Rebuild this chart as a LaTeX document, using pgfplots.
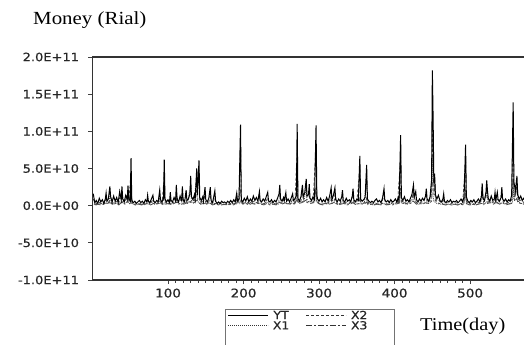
\documentclass[border=0pt]{standalone}
\usepackage{fontspec}
\usepackage{pgfplots}
\pgfplotsset{compat=1.18}
\newfontfamily\tickfont[FakeStretch=1.13,FakeBold=0.6]{DejaVu Sans}
\newfontfamily\serifw[FakeStretch=1.13]{Liberation Serif}
\begin{document}
\begin{tikzpicture}
\begin{axis}[
  at={(0,0)}, anchor=south west,
  scale only axis, width=433.5bp, height=223bp,
  xmin=0, xmax=574, ymin=-10, ymax=20,
  axis line style={draw=black!80, line width=1.1bp},
  xtick={100,200,300,400,500},
  minor x tick num=9,
  ytick={-10,-5,0,5,10,15,20},
  yticklabels={-1.0E+11,-5.0E+10,0.0E+00,5.0E+10,1.0E+11,1.5E+11,2.0E+11},
  xtick pos=bottom, ytick pos=left,
  tick align=outside,
  major tick length=4bp, minor tick length=2.5bp,
  tick style={black!75, line width=0.7bp},
  tick label style={font=\fontsize{11.5bp}{13bp}\selectfont\tickfont, text=black!85},
  yticklabel style={xshift=-6bp},
  xticklabel style={yshift=-1bp, font=\fontsize{12bp}{13bp}\selectfont\tickfont},
  /pgf/number format/assume math mode=true,
  legend columns=2,
  legend image code/.code={\draw[#1] (0bp,0bp) -- (40bp,0bp);},
  legend style={at={(0.3114,-0.1368)}, anchor=north west, draw=none, fill=none,
    inner sep=0pt, font=\fontsize{11bp}{12bp}\selectfont\tickfont,
    nodes={inner sep=0.5bp, text height=7.8bp, text depth=0bp, text=black!85},
    row sep=1.5bp,
    /tikz/every odd column/.append style={column sep=4bp},
    /tikz/every even column/.append style={column sep=16bp}},
]
% X3 (dash-dot)
\addplot[black!70, line width=0.8bp, dash pattern=on 6bp off 2bp on 2bp off 2bp, forget plot] coordinates {
(3,0.1)(7,0.2)(11,0.1)(15,0.2)(19,0.3)(23,0.4)(27,0.2)(31,0.3)(35,0.1)(39,0.5)(43,0.2)(47,0.7)(51,1.5)(53,0.2)(57,0.1)(61,0.2)(65,0.1)(69,0.2)(73,0.3)(77,0.1)(81,0.3)(85,0.2)(89,0.6)(93,0.2)(95,1.5)(97,0.2)(101,0.3)(105,0.1)(109,0.4)(111,0.9)(113,0.2)(117,0.3)(121,0.2)(125,0.4)(129,0.5)(133,0.3)(137,0.6)(141,1.0)(143,0.2)(147,0.3)(151,0.2)(155,0.4)(159,0.1)(163,0.2)(167,0.1)(171,0.1)(175,0.2)(179,0.1)(183,0.2)(187,0.1)(191,0.4)(195,0.3)(196,0.8)(199,0.2)(203,0.3)(207,0.1)(211,0.3)(215,0.2)(219,0.3)(223,0.2)(227,0.1)(231,0.3)(235,0.1)(239,0.2)(243,0.1)(247,0.5)(251,0.2)(255,0.4)(259,0.2)(263,0.3)(267,0.2)(271,0.9)(273,0.3)(277,0.4)(281,0.6)(285,0.4)(289,0.3)(293,0.4)(296,2.5)(297,0.4)(301,0.2)(305,0.1)(309,0.3)(313,0.2)(317,0.3)(321,0.5)(325,0.1)(329,0.2)(333,0.3)(337,0.1)(341,0.2)(345,0.4)(349,0.1)(353,0.3)(354,1.0)(357,0.2)(361,0.3)(363,0.5)(365,0.1)(369,0.2)(373,0.1)(377,0.2)(381,0.1)(385,0.4)(389,0.1)(393,0.2)(397,0.1)(401,0.2)(405,0.3)(408,2.5)(409,0.3)(413,0.4)(417,0.2)(421,0.3)(425,0.6)(429,0.2)(433,0.3)(437,0.2)(441,0.4)(445,0.3)(449,0.6)(450,3.0)(453,3.5)(455,0.5)(459,0.3)(463,0.2)(467,0.1)(471,0.2)(475,0.1)(479,0.2)(483,0.1)(487,0.2)(491,0.1)(494,2.0)(495,0.3)(499,0.1)(503,0.2)(507,0.1)(511,0.2)(515,0.3)(519,0.2)(522,0.6)(523,0.3)(527,0.4)(531,0.2)(535,0.5)(539,0.2)(543,0.4)(547,0.1)(551,0.2)(555,0.3)(557,4.0)(559,0.6)(562,1.0)(563,0.4)(567,0.3)(571,0.2)
};
% X2 (dashed)
\addplot[black!70, line width=0.8bp, dash pattern=on 3bp off 2bp, forget plot] coordinates {
(1,0.9)(4,0.2)(8,0.5)(12,0.2)(16,0.3)(20,0.4)(24,0.7)(27,0.2)(31,0.6)(35,0.3)(36,1.1)(40,0.4)(44,0.8)(47,1.5)(48,0.4)(51,4.5)(52,0.3)(56,0.2)(60,0.3)(64,0.2)(68,0.1)(72,0.3)(73,0.9)(76,0.2)(80,0.8)(84,0.2)(88,0.3)(92,0.2)(95,4.0)(96,0.4)(100,0.3)(103,1.0)(104,0.3)(108,0.5)(112,0.4)(116,0.6)(119,1.5)(120,0.4)(124,1.2)(125,0.3)(128,0.5)(132,0.6)(135,0.8)(136,0.4)(141,4.8)(142,0.5)(146,0.6)(149,1.4)(150,0.3)(154,0.5)(156,1.5)(158,0.2)(162,0.3)(166,0.2)(170,0.3)(174,0.2)(178,0.1)(182,0.3)(186,0.2)(190,0.4)(191,1.0)(194,0.4)(196,8.5)(197,0.4)(200,0.3)(204,0.5)(208,0.3)(212,0.6)(216,0.4)(220,0.5)(221,1.1)(224,0.2)(228,0.3)(232,1.0)(234,0.3)(238,0.4)(242,0.2)(246,0.5)(250,0.3)(252,0.6)(256,1.0)(258,0.3)(262,0.2)(265,0.9)(268,0.4)(271,7.5)(272,0.5)(276,0.6)(278,1.8)(280,0.6)(284,0.8)(287,1.9)(288,0.5)(292,0.6)(296,8.0)(297,0.8)(300,0.3)(304,0.2)(308,0.3)(312,0.4)(316,0.8)(320,0.5)(321,1.5)(324,0.2)(328,0.3)(331,1.2)(332,0.3)(336,0.5)(340,0.3)(345,1.4)(346,0.4)(350,0.5)(354,5.0)(355,0.5)(358,0.3)(362,0.5)(363,1.0)(366,0.3)(370,0.2)(374,0.4)(378,0.2)(382,0.1)(386,1.4)(388,0.3)(392,0.2)(396,0.4)(400,0.3)(404,0.5)(408,6.5)(409,0.6)(412,0.5)(416,0.3)(420,0.5)(423,0.9)(425,1.8)(427,0.7)(430,0.3)(434,0.4)(438,0.6)(442,1.4)(443,0.4)(446,0.6)(449,2.0)(450,11.8)(451,6.8)(452,1.5)(453,2.8)(454,0.7)(458,0.8)(462,0.3)(465,0.9)(466,0.3)(470,0.4)(474,0.3)(478,0.2)(482,0.4)(486,0.3)(490,0.2)(494,6.0)(495,0.6)(498,0.2)(502,0.4)(506,0.2)(510,0.5)(514,0.3)(516,2.2)(518,0.5)(521,1.0)(522,2.5)(524,0.6)(528,0.8)(532,0.4)(533,1.2)(534,0.4)(538,0.3)(542,1.6)(544,0.4)(548,0.3)(552,0.5)(555,0.8)(557,10.5)(558,2.0)(560,1.2)(562,3.0)(564,0.6)(568,0.8)(571,0.4)
};
% X1 (dotted)
\addplot[black!70, line width=0.8bp, dash pattern=on 1bp off 1bp, forget plot] coordinates {
(2,0.2)(6,0.1)(10,0.4)(14,0.2)(18,0.9)(22,0.3)(23,1.5)(26,0.2)(30,0.5)(34,0.2)(38,0.4)(39,1.6)(42,0.3)(46,0.5)(50,0.2)(51,1.2)(54,0.2)(58,0.1)(62,0.3)(66,0.2)(70,0.4)(74,0.2)(78,0.5)(82,0.2)(86,0.3)(89,1.1)(90,0.3)(94,0.2)(98,0.3)(102,0.2)(106,0.4)(110,0.3)(111,1.6)(114,0.3)(118,0.2)(122,0.4)(126,0.3)(130,3.0)(131,0.5)(134,0.4)(138,3.8)(139,0.6)(142,0.3)(146,0.5)(150,0.2)(154,0.4)(158,0.2)(162,0.9)(166,0.1)(170,0.2)(174,0.1)(178,0.2)(182,0.1)(186,0.3)(190,0.2)(196,2.0)(198,0.3)(202,0.4)(206,0.2)(210,0.5)(214,0.3)(218,0.4)(222,0.3)(226,0.2)(230,0.5)(234,0.3)(238,0.2)(242,0.3)(246,0.2)(248,1.5)(250,0.3)(254,0.4)(258,0.2)(262,0.4)(266,0.3)(270,0.5)(271,3.0)(272,0.4)(276,0.5)(280,0.6)(283,2.5)(284,0.5)(288,0.6)(292,0.4)(296,1.8)(297,0.5)(300,0.3)(304,0.2)(308,0.3)(312,0.2)(316,1.3)(317,0.3)(320,0.4)(324,0.2)(328,0.3)(332,0.4)(336,0.2)(340,0.3)(344,0.5)(348,0.2)(352,0.3)(356,0.2)(360,0.4)(363,4.0)(364,0.4)(368,0.2)(372,0.1)(376,0.3)(380,0.2)(384,0.3)(388,0.2)(392,0.1)(396,0.3)(400,0.2)(404,0.4)(408,1.8)(409,0.4)(412,0.3)(416,0.2)(420,0.4)(424,0.6)(425,1.6)(428,0.5)(432,0.2)(436,0.3)(440,0.4)(444,0.3)(448,0.5)(450,6.6)(451,1.2)(452,0.6)(456,0.3)(460,0.2)(464,0.3)(468,0.1)(472,0.2)(476,0.1)(480,0.2)(484,0.1)(488,0.3)(492,0.2)(494,1.5)(496,0.2)(500,0.1)(504,0.2)(508,0.1)(512,0.3)(516,1.8)(518,0.3)(522,1.9)(524,0.4)(528,0.5)(532,0.3)(536,0.9)(540,0.3)(544,0.4)(548,0.2)(552,0.3)(556,0.4)(557,3.0)(558,0.8)(562,2.2)(564,0.5)(568,0.3)(572,0.2)
};
% YT (solid)
\addplot[black, line width=1.0bp, forget plot] coordinates {
(1,1.6)(3,0.4)(5,0.7)(7,0.3)(9,1.0)(11,0.5)(13,0.8)(15,0.3)(17,0.9)(18,1.7)(19,0.6)(21,0.9)(23,2.6)(24,1.2)(26,0.5)(28,1.3)(30,0.6)(32,1.1)(34,0.4)(36,1.9)(38,0.8)(39,2.6)(40,0.9)(42,0.5)(44,1.4)(46,0.8)(47,2.7)(48,1.0)(50,0.6)(51,6.4)(52,0.7)(54,0.4)(56,0.6)(58,0.3)(60,0.5)(62,0.7)(64,0.4)(66,0.6)(68,0.3)(70,0.8)(72,0.5)(73,1.4)(74,0.6)(76,0.4)(78,0.9)(80,1.4)(81,0.6)(83,0.4)(85,0.7)(87,0.5)(89,2.1)(90,0.8)(92,0.5)(94,1.0)(95,6.2)(96,0.9)(98,0.5)(100,0.8)(102,0.4)(103,1.8)(104,0.7)(106,0.5)(108,1.1)(110,0.6)(111,2.8)(112,0.9)(114,0.5)(116,1.3)(118,0.7)(119,2.6)(120,0.8)(122,0.5)(124,2.1)(125,0.7)(127,0.9)(129,1.6)(130,4.0)(131,1.2)(133,0.8)(135,1.5)(136,0.9)(138,5.0)(139,1.4)(141,6.1)(142,1.1)(144,0.7)(146,1.2)(147,0.6)(149,2.5)(150,0.8)(152,0.5)(154,1.0)(156,2.5)(157,0.7)(159,0.4)(160,0.9)(162,2.0)(163,0.6)(165,0.3)(167,0.5)(169,0.3)(171,0.6)(173,0.4)(175,0.5)(177,0.3)(179,0.6)(181,0.4)(183,0.7)(185,0.4)(187,0.8)(189,0.5)(191,1.7)(192,0.6)(194,0.9)(196,10.9)(197,0.8)(199,0.5)(201,1.0)(203,0.6)(205,1.2)(207,0.5)(209,0.9)(211,0.6)(213,1.3)(215,0.7)(217,1.1)(219,0.6)(221,1.9)(222,0.7)(224,0.5)(226,0.9)(228,0.6)(230,1.2)(232,1.8)(233,0.7)(235,0.5)(237,0.8)(239,0.4)(241,0.7)(243,0.5)(245,1.0)(247,1.6)(248,2.8)(249,0.9)(251,0.6)(253,1.1)(254,0.7)(256,1.75)(257,0.6)(259,0.9)(261,0.5)(263,1.0)(265,1.6)(266,0.7)(268,0.9)(270,1.4)(271,11.0)(272,1.0)(274,0.6)(276,1.2)(278,2.8)(279,1.2)(281,1.7)(283,3.6)(284,1.3)(286,1.5)(287,2.9)(288,1.0)(290,0.7)(292,1.2)(294,0.8)(296,10.8)(297,1.5)(298,0.9)(300,0.6)(302,1.0)(304,0.5)(306,0.8)(308,0.5)(310,1.1)(312,0.6)(314,1.3)(316,2.4)(317,0.8)(319,1.4)(321,2.4)(322,0.8)(324,0.5)(326,0.9)(328,0.6)(330,1.2)(331,2.1)(332,0.7)(334,0.5)(336,1.0)(338,0.6)(340,0.8)(342,0.5)(344,1.3)(345,2.3)(346,0.8)(348,0.5)(350,0.9)(352,0.7)(354,6.7)(355,0.9)(357,0.6)(359,0.8)(361,1.1)(363,5.5)(364,0.9)(366,0.6)(368,0.4)(370,0.6)(372,0.4)(374,0.7)(376,0.9)(378,0.5)(380,0.7)(382,0.4)(384,1.0)(386,2.3)(387,0.8)(389,0.5)(391,0.7)(393,0.4)(395,0.8)(397,0.5)(399,0.6)(401,0.9)(403,0.5)(405,1.1)(406,0.7)(408,9.5)(409,1.1)(411,0.7)(413,1.2)(415,0.6)(417,0.8)(419,0.5)(421,1.0)(423,1.5)(425,2.8)(426,1.2)(428,1.9)(429,0.8)(431,0.5)(433,0.9)(435,0.6)(437,1.0)(439,0.7)(441,1.3)(442,2.3)(443,0.9)(445,0.6)(447,1.2)(449,3.5)(450,18.2)(451,11.8)(452,3.0)(453,4.3)(454,1.5)(456,0.9)(458,1.4)(460,0.7)(462,0.5)(464,0.9)(465,1.6)(466,0.6)(468,0.4)(470,0.7)(472,0.5)(474,0.8)(476,0.4)(478,0.6)(480,0.5)(482,0.7)(484,0.4)(486,0.6)(488,0.9)(490,0.5)(492,1.2)(494,8.2)(495,1.2)(497,0.6)(499,0.4)(501,0.7)(503,0.5)(505,0.8)(507,0.4)(509,0.6)(511,0.9)(513,0.5)(515,1.2)(516,3.0)(517,1.0)(519,0.7)(521,1.8)(522,3.4)(523,2.0)(524,1.0)(526,0.6)(528,1.3)(530,0.7)(532,0.9)(533,1.8)(534,0.7)(536,1.8)(537,0.8)(539,0.6)(541,1.1)(542,2.5)(543,0.9)(545,0.6)(547,0.9)(549,0.5)(551,0.8)(553,0.6)(555,1.4)(557,13.9)(558,3.2)(560,2.0)(562,4.0)(563,1.5)(565,0.9)(567,1.3)(569,0.7)(571,1.0)(573,0.6)
};
\addlegendimage{black, line width=0.7bp}
\addlegendentry{YT}
\addlegendimage{black!80, line width=0.7bp, dash pattern=on 3bp off 2bp}
\addlegendentry{X2}
\addlegendimage{black!80, line width=0.7bp, dash pattern=on 1bp off 1bp}
\addlegendentry{X1}
\addlegendimage{black!80, line width=0.7bp, dash pattern=on 6bp off 2bp on 2bp off 2bp}
\addlegendentry{X3}
\end{axis}
\draw[black!55, line width=0.8bp] (133.2bp,-29.3bp) rectangle (301.5bp,-80bp);
\node[anchor=base west, inner sep=0pt, font=\fontsize{18.5bp}{20bp}\selectfont\serifw] at (-59.5bp,255bp) {Money (Rial)};
\node[anchor=base west, inner sep=0pt, font=\fontsize{18bp}{20bp}\selectfont\serifw] at (327.5bp,-50bp) {Time(day)};
\pgfresetboundingbox
\path[use as bounding box] (-92.5bp,-65bp) rectangle (431.5bp,280bp);
\end{tikzpicture}
\end{document}
